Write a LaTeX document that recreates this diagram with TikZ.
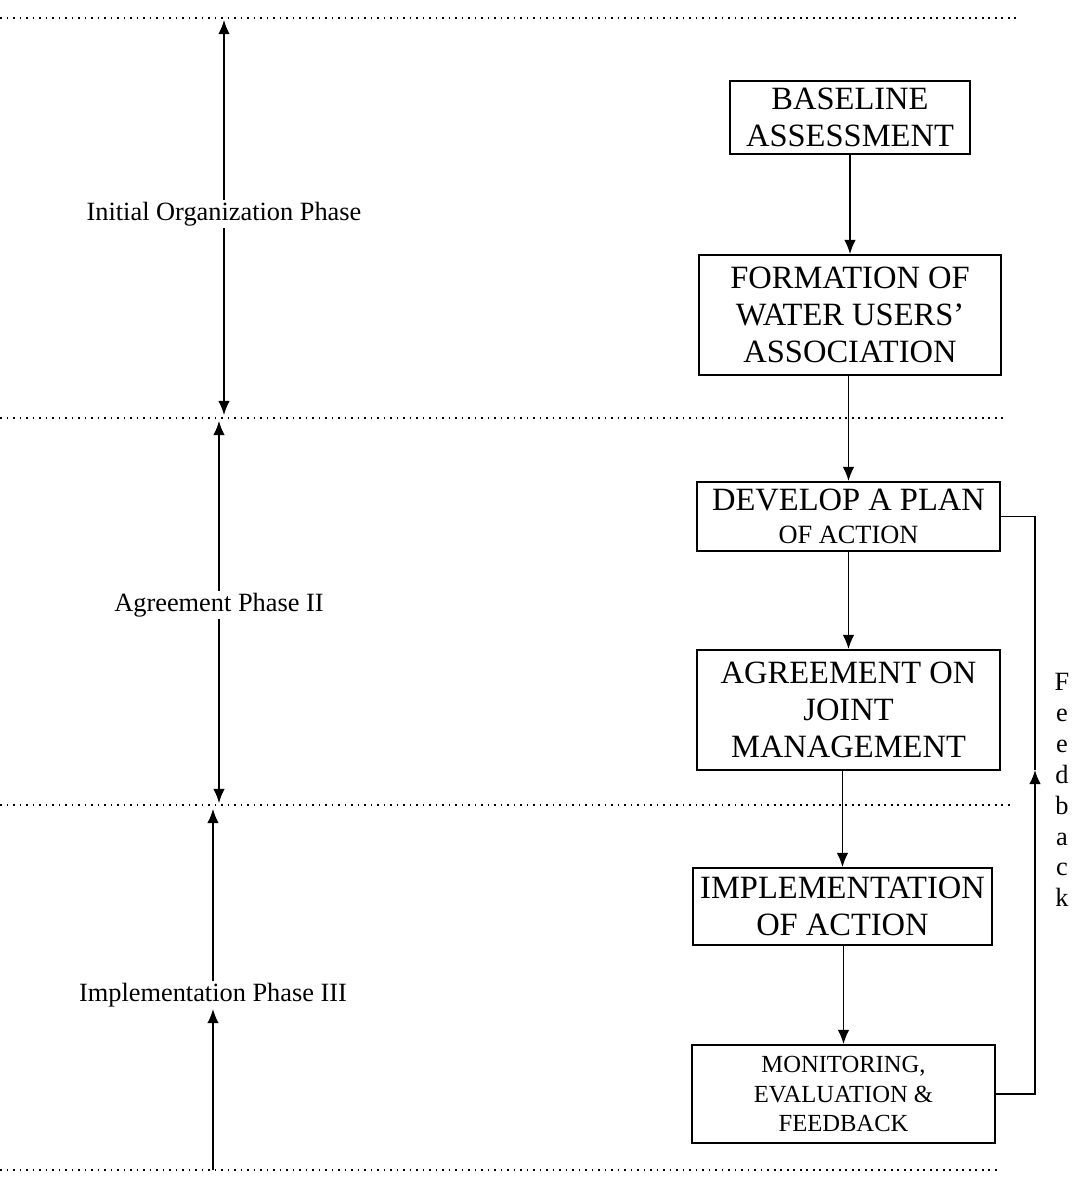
\documentclass[tikz,border=0pt]{standalone}
\usepackage{fontspec}
\setmainfont{Liberation Serif}
\usepackage{tikz}
\usetikzlibrary{arrows.meta, positioning}
\tikzset{
  process/.style={rectangle, minimum width=6.05cm, text centered, align=center, draw=black, line width=1.1pt, inner sep=2pt, font=\fontsize{18.5}{21}\selectfont},
  phase/.style={text centered, inner sep=1pt, font=\fontsize{15}{18}\selectfont},
  arrow/.style={line width=0.8pt, -{Latex[length=8pt,width=6.5pt]}},
  link/.style={line width=0.8pt},
  divider/.style={line width=1pt, dash pattern=on 1pt off 2.7pt}
}
\begin{document}
\begin{tikzpicture}[node distance=3.9cm]
  \useasboundingbox (0,0) rectangle (21.5,-23.6);

  % phase boundaries
  \draw [divider] (0,-0.36) -- (20.4,-0.36);
  \draw [divider] (0,-8.36) -- (20.1,-8.36);
  \draw [divider] (0,-16.1) -- (20.2,-16.1);
  \draw [divider] (0,-23.4) -- (20.0,-23.4);

  \node (baseline) [process, minimum width=4.8cm, minimum height=1.46cm] at (17,-2.35) {BASELINE\\ASSESSMENT};
  \node (formation) [process, below of=baseline, yshift=-0.05cm, minimum height=2.4cm] {FORMATION OF\\WATER USERS’\\ASSOCIATION};
  \node (develop) [process, below of=formation, yshift=-0.13cm, xshift=-0.03cm, minimum height=1.38cm] {DEVELOP A PLAN\\[-2pt]{\fontsize{15}{17}\selectfont OF ACTION}};
  \node (agreement) [process, below of=develop, yshift=0.03cm, minimum height=2.4cm] {AGREEMENT ON\\JOINT\\MANAGEMENT};
  \node (implementation) [process, below of=agreement, yshift=-0.03cm, xshift=-0.12cm, minimum width=5.98cm, minimum height=1.54cm] {IMPLEMENTATION\\OF ACTION};
  \node (monitoring) [process, below of=implementation, yshift=0.15cm, xshift=0.02cm, minimum height=1.96cm, font=\fontsize{14}{17}\selectfont] {MONITORING,\\EVALUATION \&\\FEEDBACK};

  \node (initial) [phase] at (4.48,-4.28) {Initial Organization Phase};
  \node (agreephase) [phase] at (4.38,-12.1) {Agreement Phase II};
  \node (implphase) [phase] at (4.26,-19.9) {Implementation Phase III};
  \node (fbtext) [phase, align=center, font=\fontsize{15}{17.6}\selectfont] at (21.24,-15.8) {F\\e\\e\\d\\b\\a\\c\\k};

  \coordinate (initialtop) at (4.48,-0.4);
  \coordinate (initialbot) at (4.48,-8.3);
  \coordinate (agreetop) at (4.38,-8.42);
  \coordinate (agreebot) at (4.38,-16.06);
  \coordinate (impltop) at (4.26,-16.18);
  \coordinate (implbot) at (4.26,-23.4);
  \coordinate (fbmid) at (20.7,-15.4);

  \draw [arrow] (initial) -- (initialtop);
  \draw [arrow] (initial) -- (initialbot);
  \draw [arrow] (agreephase) -- (agreetop);
  \draw [arrow] (agreephase) -- (agreebot);
  \draw [arrow] (implphase) -- (impltop);
  \draw [arrow] (implbot) -- (implphase);

  \draw [arrow] (baseline) -- (formation);
  \draw [arrow] (formation.south -| develop.north) -- (develop.north);
  \draw [arrow] (develop) -- (agreement);
  \draw [arrow] (agreement.south -| implementation.north) -- (implementation.north);
  \draw [arrow] (implementation.south -| monitoring.north) -- (monitoring.north);

  \draw [arrow] (monitoring.east) -| (fbmid);
  \draw [link] (fbmid) |- (develop.east);
\end{tikzpicture}
\end{document}
